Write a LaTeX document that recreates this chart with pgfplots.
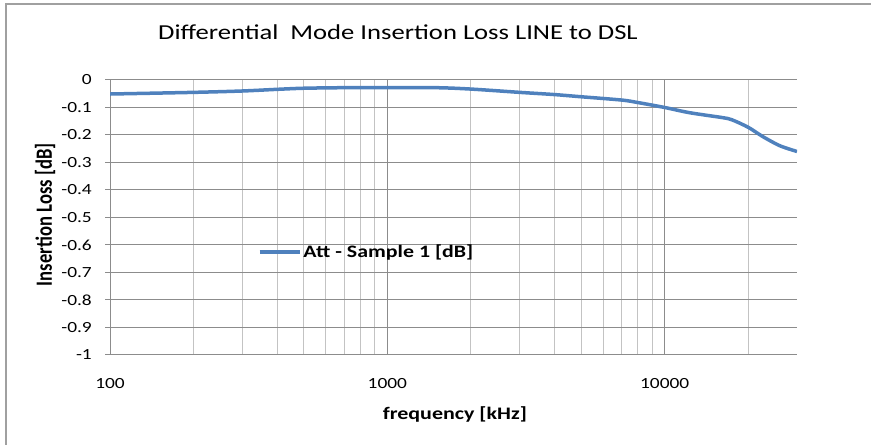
\documentclass[border=0pt]{standalone}
\usepackage{pgfplots}
\pgfplotsset{compat=1.18}
\usepackage{fontspec}
\setmainfont{Carlito}[FakeStretch=1.25]
\newfontfamily\plainfont{Carlito}
\definecolor{gridmaj}{RGB}{140,140,140}
\definecolor{gridmin}{RGB}{195,195,195}
\definecolor{frame}{RGB}{160,160,160}
\definecolor{serblue}{RGB}{79,129,189}
\begin{document}
\begin{tikzpicture}[x=1bp,y=1bp]
\path[use as bounding box] (0,0) rectangle (871,445);
\draw[frame, line width=1.2bp] (6,0) -- (6,441) -- (871,441);
\begin{axis}[
  at={(110bp,90bp)}, anchor=south west,
  width=687bp, height=275bp, scale only axis,
  xmode=log, xmin=100, xmax=30000,
  ymin=-1, ymax=0,
  xtick={100,1000,10000}, xticklabels={100,1000,10000},
  minor xtick={200,300,400,500,600,700,800,900,2000,3000,4000,5000,6000,7000,8000,9000,20000},
  ytick={-1,-0.9,-0.8,-0.7,-0.6,-0.5,-0.4,-0.3,-0.2,-0.1,0},
  yticklabels={-1,-0.9,-0.8,-0.7,-0.6,-0.5,-0.4,-0.3,-0.2,-0.1,0},
  xmajorgrids, xminorgrids, ymajorgrids,
  major grid style={draw=gridmaj, line width=1bp},
  minor grid style={draw=gridmin, line width=0.8bp},
  axis line style={draw=gridmaj, line width=1bp},
  xtick style={draw=none}, minor tick style={draw=none},
  ytick style={draw=gridmaj, line width=1bp},
  tick align=outside, major tick length=5bp,
  axis x line*=bottom, axis y line*=left,
  ticklabel style={font=\fontsize{15.5bp}{18bp}\selectfont},
  xticklabel style={anchor=north, inner sep=0pt, yshift=-18bp},
  yticklabel style={anchor=east, inner sep=0pt, xshift=-13bp},
  title={Differential\ \ Mode Insertion Loss LINE to DSL},
  title style={font=\fontsize{21.3bp}{26bp}\selectfont, at={(axis description cs:0.4192,1.1527)}, anchor=center},
  xlabel={frequency [kHz]},
  xlabel style={font=\fontsize{17.6bp}{20bp}\selectfont\bfseries, at={(axis description cs:0.502,-0.218)}, anchor=center},
  ylabel={\scalebox{1}[1.25]{\plainfont\bfseries Insertion Loss [dB]}},
  ylabel style={font=\fontsize{18.6bp}{20bp}\selectfont, at={(axis description cs:-0.0946,0.51)}, anchor=center},
  legend style={draw=none, fill=none, at={(axis description cs:0.2154,0.3745)}, anchor=west, inner sep=0pt, outer sep=0pt,
    font=\fontsize{17.5bp}{20bp}\selectfont\bfseries, nodes={inner sep=2bp}},
  legend image code/.code={\draw[#1] (0bp,0bp) -- (40bp,0bp);},
  legend cell align=left,
]
\addplot[serblue, line width=3.5bp, smooth] coordinates {
(100,-0.051) (200,-0.045) (300,-0.040) (400,-0.034) (500,-0.030) (700,-0.028)
(1000,-0.028) (1500,-0.028) (2000,-0.033) (3000,-0.045) (4000,-0.053)
(5000,-0.061) (7000,-0.073) (8000,-0.082) (10000,-0.100) (12300,-0.119)
(16200,-0.137) (17500,-0.145) (20000,-0.172) (22600,-0.206) (26000,-0.239) (30000,-0.260)
};
\addlegendentry{Att - Sample 1 [dB]}
\end{axis}
\end{tikzpicture}
\end{document}
